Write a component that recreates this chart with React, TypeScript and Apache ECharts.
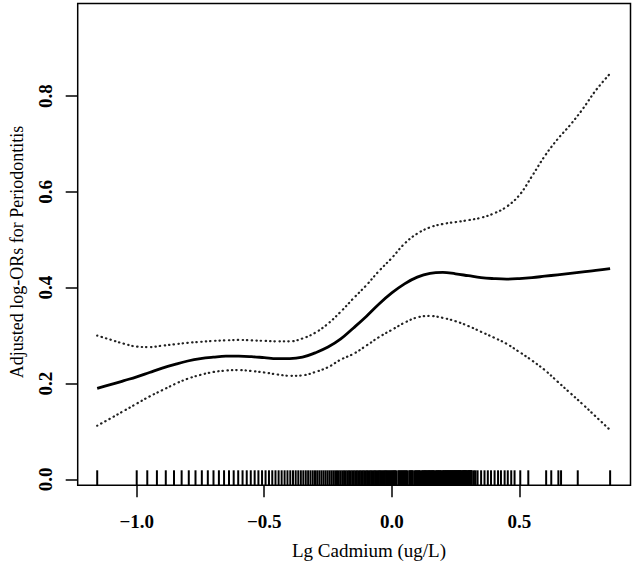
import React, { useEffect, useRef } from "react";
import * as echarts from "echarts";

// Restricted cubic spline fit of log-OR against log10 cadmium, with 95% CI bounds
const curveX = [
  -1.155, -1.1, -1.05, -1.0, -0.95, -0.9, -0.85, -0.8, -0.75, -0.7, -0.65, -0.6, -0.55, -0.5,
  -0.45, -0.4, -0.35, -0.3, -0.25, -0.2, -0.15, -0.1, -0.05, 0.0, 0.05, 0.1, 0.15, 0.2, 0.25,
  0.3, 0.35, 0.4, 0.45, 0.5, 0.55, 0.6, 0.65, 0.7, 0.75, 0.8, 0.856,
];
const fitY = [
  0.19, 0.198, 0.206, 0.214, 0.223, 0.232, 0.24, 0.247, 0.252, 0.255, 0.257, 0.257, 0.256, 0.254,
  0.252, 0.252, 0.255, 0.264, 0.276, 0.293, 0.316, 0.34, 0.366, 0.389, 0.408, 0.422, 0.43, 0.432,
  0.429, 0.425, 0.421, 0.419, 0.418, 0.419, 0.421, 0.424, 0.427, 0.43, 0.433, 0.436, 0.44,
];
const upperY = [
  0.3, 0.291, 0.283, 0.277, 0.276, 0.279, 0.282, 0.285, 0.287, 0.289, 0.29, 0.291, 0.29, 0.289,
  0.288, 0.288, 0.294, 0.306, 0.325, 0.35, 0.378, 0.405, 0.435, 0.462, 0.492, 0.513, 0.526, 0.533,
  0.537, 0.541, 0.546, 0.555, 0.569, 0.593, 0.633, 0.675, 0.71, 0.74, 0.774, 0.812, 0.847,
];
const lowerY = [
  0.112, 0.128, 0.143, 0.158, 0.173, 0.186, 0.199, 0.21, 0.218, 0.224, 0.227, 0.228, 0.226, 0.223,
  0.219, 0.216, 0.217, 0.224, 0.234, 0.25, 0.262, 0.279, 0.297, 0.312, 0.327, 0.338, 0.341, 0.337,
  0.33, 0.32, 0.308, 0.296, 0.283, 0.266, 0.248, 0.228, 0.204, 0.18, 0.156, 0.131, 0.103,
];

const xTicks = [-1.0, -0.5, 0.0, 0.5];
const yTicks = [0.0, 0.2, 0.4, 0.6, 0.8];

// Distinct cadmium concentrations in the sample (rug), ug/L
const cadmiumLow = [0.07];
// measured at 0.01 ug/L resolution; listed in hundredths
const cadmiumDenseHundredths = [
  10, 11, 12, 13, 14, 15, 16, 17, 18, 19,
  20, 21, 22, 23, 24, 25, 26, 27, 28, 29,
  30, 31, 32, 33, 34, 35, 36, 37, 38, 39,
  40, 41, 42, 43, 44, 45, 46, 47, 48, 49,
  50, 51, 52, 53, 54, 55, 56, 57, 58, 59,
  60, 61, 62, 63, 64, 65, 66, 67, 68, 69,
  70, 71, 72, 73, 74, 75, 76, 77, 78, 79,
  80, 81, 82, 83, 84, 85, 86, 87, 88, 89,
  90, 91, 92, 93, 94, 95, 96, 97, 98, 99,
  100, 101, 102, 103, 104, 106, 107, 108, 109,
  110, 111, 112, 113, 114, 115, 117, 118, 119,
  120, 121, 123, 124, 125, 126, 127, 128, 129,
  131, 132, 133, 134, 135, 136, 137, 138, 139,
  140, 141, 142, 143, 144, 145, 146, 147, 149,
  150, 151, 152, 153, 154, 155, 156, 158, 159,
  160, 161, 162, 163, 164, 165, 166, 167, 168, 169,
  170, 171, 172, 173, 174, 175, 176, 177, 178, 179,
  180, 181, 182, 183, 184, 185, 186, 187, 189,
  190, 191, 192, 193, 194, 195, 196, 197, 199,
  200, 201, 202, 203, 204, 205, 206, 210, 213, 217,
];
const cadmiumHigh = [
  2.24, 2.31, 2.38, 2.45, 2.53, 2.61, 2.68, 2.77, 2.85, 2.94, 3.03, 3.19, 3.43, 4.03, 4.22, 4.5,
  4.61, 5.36, 7.18,
];

const X_MIN = -1.2314;
const X_MAX = 0.936;
const Y_MIN = -0.0125;
const Y_MAX = 0.9933;

const SERIF = '"Liberation Serif", "Times New Roman", serif';

export default function App() {
  const ref = useRef<HTMLDivElement>(null);

  useEffect(() => {
    if (!ref.current) return;
    const chart = echarts.init(ref.current, undefined, { renderer: "svg" });

    const rugX = [
      ...cadmiumLow,
      ...cadmiumDenseHundredths.map((h) => h / 100),
      ...cadmiumHigh,
    ].map((c) => [Math.log10(c), Y_MIN]);

    const pairs = (ys: number[]) => curveX.map((x, i) => [x, ys[i]]);

    const tickLine = { color: "#000", width: 1.5 };
    const tickLabel = {
      color: "#000",
      fontFamily: SERIF,
      fontSize: 19,
      fontWeight: "bold" as const,
    };

    chart.setOption({
      animation: false,
      backgroundColor: "#fff",
      grid: {
        left: 77.7,
        right: 2.5,
        top: 3.5,
        bottom: 84.7,
        show: true,
        borderColor: "#000",
        borderWidth: 1.5,
        backgroundColor: "transparent",
      },
      xAxis: {
        type: "value",
        min: X_MIN,
        max: X_MAX,
        axisLine: { show: false, onZero: false },
        splitLine: { show: false },
        axisTick: { show: true, customValues: xTicks, length: 12, lineStyle: tickLine },
        axisLabel: {
          ...tickLabel,
          customValues: xTicks,
          margin: 27,
          formatter: (v: number) => v.toFixed(1).replace("-", "\u2212"),
        },
      },
      yAxis: {
        type: "value",
        min: Y_MIN,
        max: Y_MAX,
        axisLine: { show: false, onZero: false },
        splitLine: { show: false },
        axisTick: { show: true, customValues: yTicks, length: 12, lineStyle: tickLine },
        axisLabel: {
          ...tickLabel,
          customValues: yTicks,
          rotate: 90,
          margin: 23,
          formatter: (v: number) => v.toFixed(1),
        },
      },
      graphic: [
        {
          type: "text",
          x: 369,
          y: 550,
          style: {
            text: "Lg Cadmium (ug/L)",
            fontFamily: SERIF,
            fontSize: 19,
            fill: "#000",
            align: "center",
            verticalAlign: "middle",
            textAlign: "center",
            textVerticalAlign: "middle",
          },
        },
        {
          type: "text",
          x: 17,
          y: 252,
          rotation: Math.PI / 2,
          style: {
            text: "Adjusted log-ORs for Periodontitis",
            fontFamily: SERIF,
            fontSize: 18,
            fill: "#000",
            align: "center",
            verticalAlign: "middle",
            textAlign: "center",
            textVerticalAlign: "middle",
          },
        },
      ],
      series: [
        {
          name: "Upper 95% CI",
          type: "line",
          data: pairs(upperY),
          smooth: 0.4,
          showSymbol: false,
          silent: true,
          lineStyle: { color: "#222", width: 2.2, type: [0.4, 4.2], cap: "round" },
        },
        {
          name: "Lower 95% CI",
          type: "line",
          data: pairs(lowerY),
          smooth: 0.4,
          showSymbol: false,
          silent: true,
          lineStyle: { color: "#222", width: 2.2, type: [0.4, 4.2], cap: "round" },
        },
        {
          name: "Adjusted log-OR",
          type: "line",
          data: pairs(fitY),
          smooth: 0.4,
          showSymbol: false,
          silent: true,
          lineStyle: { color: "#000", width: 2.8 },
        },
        {
          name: "Rug",
          type: "custom",
          data: rugX,
          silent: true,
          encode: { x: 0, y: 1 },
          renderItem: (_params: any, api: any) => {
            const p = api.coord([api.value(0), Y_MIN]);
            return {
              type: "line",
              shape: { x1: p[0], y1: p[1], x2: p[0], y2: p[1] - 15 },
              style: { stroke: "#000", lineWidth: 2 },
            };
          },
        },
      ],
    });

    return () => chart.dispose();
  }, []);

  return (
    <div
      ref={ref}
      style={{ position: "fixed", left: 0, top: 0, width: 633, height: 570, background: "#fff" }}
    />
  );
}
